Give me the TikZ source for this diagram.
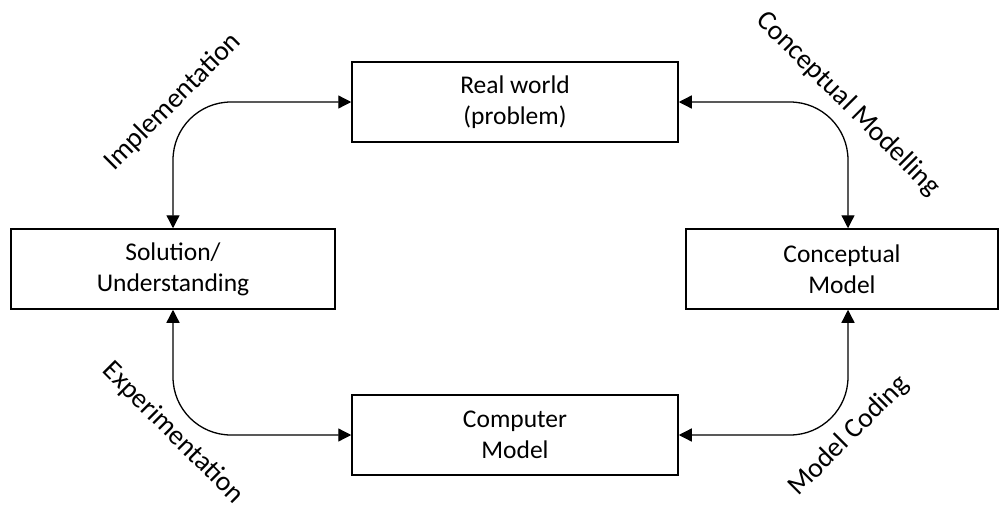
\documentclass[tikz,border=0pt]{standalone}
\usepackage{fontspec}
\setmainfont{Carlito}
\usetikzlibrary{arrows.meta}
\begin{document}
\begin{tikzpicture}[x=1pt,y=-1pt,
  box/.style={draw, line width=1.5pt, inner sep=0pt, align=center,
    minimum height=80pt, font=\fontsize{25.5}{31}\selectfont},
  conn/.style={line width=1.3pt, rounded corners=58pt,
    {Triangle[length=13pt,width=13pt]}-{Triangle[length=13pt,width=13pt]}},
  lbl/.style={font=\fontsize{27.8}{33}\selectfont, inner sep=0pt}]
\useasboundingbox (0,0) rectangle (1001,506);

% stages of the modelling cycle
\node[box, minimum width=326pt] (real) at (515,102) {Real world\\(problem)};
\node[box, minimum width=324pt] (sol) at (173,269) {Solution/\\Understanding};
\node[box, minimum width=312pt] (concept) at (842,269) {Conceptual\\Model};
\node[box, minimum width=326pt] (comp) at (515,435) {Computer\\Model};

% two-way links between the stages
\draw[conn] (real.west) -| (sol.north);
\draw[conn] (real.east) -| ([xshift=6pt]concept.north);
\draw[conn] (comp.west) -| (sol.south);
\draw[conn] (comp.east) -| ([xshift=6pt]concept.south);

% activity labels, centred on the corners of the links
\node[lbl, rotate=45] (implab) at (173,102) {Implementation};
\node[lbl, rotate=-45] (conlab) at (848,104) {Conceptual Modelling};
\node[lbl, rotate=-45] (explab) at (173,433) {Experimentation};
\node[lbl, rotate=45] (codlab) at (849,436) {Model Coding};
\end{tikzpicture}
\end{document}
